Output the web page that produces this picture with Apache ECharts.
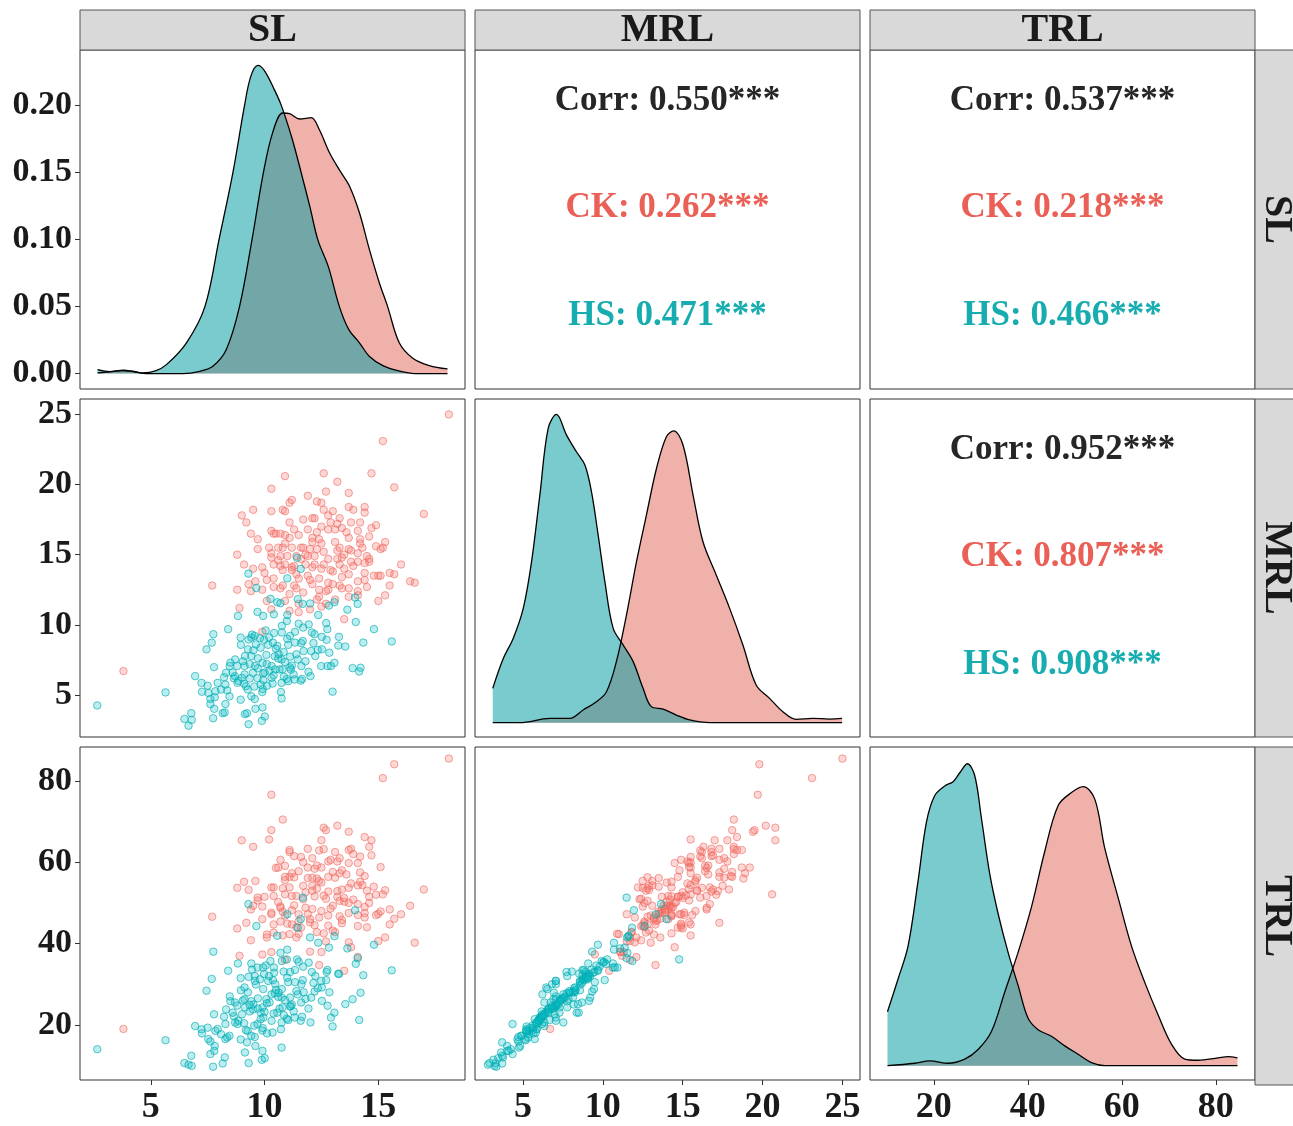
<!DOCTYPE html>
<html>
<head>
<meta charset="utf-8">
<title>ggpairs SL MRL TRL</title>
<script src="https://cdn.jsdelivr.net/npm/echarts@6/dist/echarts.min.js"></script>
<style>
  html, body { margin: 0; padding: 0; background: #fff; }
  #main { width: 1293px; height: 1126px; }
</style>
</head>
<body>
<div id="main"></div>
<script>
// variables and groups
var varNames = ['SL', 'MRL', 'TRL'];
var groupNames = ['CK', 'HS'];

// correlations shown in the upper panels: [SL-MRL, SL-TRL, MRL-TRL]
var corrAll = ['0.550', '0.537', '0.952'];
var corrCK = ['0.262', '0.218', '0.807'];
var corrHS = ['0.471', '0.466', '0.908'];
var corrStars = '***';

// axis ranges and tick labels
var slRange = [1.89, 18.81];
var mrlRange = [2.0, 26.1];
var trlRange = [6.43, 88.35];
var slTicks = [5, 10, 15];
var mrlTicks = [5, 10, 15, 20, 25];
var trlTicks = [20, 40, 60, 80];
var densTicks = [0, 0.05, 0.10, 0.15, 0.20];
var densSLRange = [-0.0115, 0.2415];
var densMRLRange = [-0.009, 0.2036];
var densTRLRange = [-0.0024, 0.0532];

// observations [SL, MRL, TRL]
var ckObs = [
  [3.8,6.7,19.0],[7.7,12.8,46.6],[8.8,15.0,43.7],[8.8,12.5,53.7],[8.9,11.2,37.0],[9.0,17.8,65.4],[9.1,14.3,55.2],[9.2,17.3,45.1],[9.3,12.9,53.2],[9.4,12.4,40.8],
  [9.4,16.5,48.4],[9.5,18.2,63.8],[9.5,14.0,49.3],[9.6,13.1,55.4],[9.7,16.1,51.3],[9.7,15.4,50.6],[9.9,12.5,49.1],[9.9,9.5,37.3],[9.9,14.1,46.0],[10.0,13.7,51.5],
  [10.1,13.2,42.2],[10.1,11.7,41.5],[10.2,15.5,65.6],[10.3,19.7,76.6],[10.3,18.1,67.9],[10.3,15.1,47.6],[10.3,14.8,47.2],[10.3,16.7,53.8],[10.3,11.1,37.9],[10.4,16.5,51.7],
  [10.4,13.3,44.7],[10.4,14.3,53.8],[10.4,12.7,42.7],[10.5,16.5,58.6],[10.6,15.5,58.7],[10.7,12.6,45.4],[10.7,16.5,48.8],[10.7,14.9,60.6],[10.7,14.2,49.1],[10.8,18.2,70.5],
  [10.8,15.5,42.0],[10.8,12.8,53.6],[10.9,18.1,56.4],[10.9,20.6,52.1],[10.9,16.4,59.1],[10.9,11.7,36.0],[10.9,14.3,46.9],[11.0,14.9,44.9],[11.1,17.3,56.4],[11.1,16.2,62.5],
  [11.1,11.0,42.3],[11.1,18.7,63.0],[11.1,12.2,53.8],[11.2,14.1,51.7],[11.2,18.9,57.3],[11.2,15.5,44.7],[11.3,12.8,56.3],[11.3,16.8,61.5],[11.3,14.2,49.4],[11.4,13.6,41.5],
  [11.4,14.9,51.7],[11.5,10.9,42.4],[11.5,13.3,45.5],[11.5,11.5,47.2],[11.6,15.5,61.3],[11.6,14.7,43.9],[11.7,12.3,50.9],[11.7,15.5,60.0],[11.7,17.5,54.2],[11.8,14.3,48.8],
  [11.9,19.2,58.7],[11.9,13.5,56.1],[11.9,14.9,47.2],[11.9,16.8,63.3],[12.0,15.4,45.2],[12.0,11.1,38.0],[12.1,17.6,56.2],[12.1,14.1,48.5],[12.1,16.2,61.0],[12.1,12.9,54.2],
  [12.2,14.3,51.6],[12.2,17.6,58.4],[12.2,14.9,44.5],[12.3,18.8,56.0],[12.3,15.4,53.5],[12.3,11.8,42.8],[12.4,13.3,34.7],[12.4,12.5,55.4],[12.4,16.1,62.9],[12.4,12.0,46.4],
  [12.5,18.7,58.7],[12.5,11.3,37.9],[12.5,15.8,48.0],[12.5,14.0,55.0],[12.5,17.0,65.4],[12.6,18.2,63.2],[12.6,14.3,42.5],[12.6,20.8,68.5],[12.7,12.4,51.0],[12.7,11.5,40.5],
  [12.7,19.5,67.9],[12.8,12.5,44.4],[12.8,16.8,52.8],[12.8,13.0,46.9],[12.8,14.7,56.4],[12.8,17.8,60.2],[13.0,18.1,57.6],[13.0,13.8,49.3],[13.0,12.9,43.2],[13.1,16.8,62.5],
  [13.1,11.8,42.8],[13.2,17.2,52.9],[13.2,15.3,60.2],[13.2,14.7,51.5],[13.2,20.2,69.0],[13.3,17.6,61.0],[13.3,15.5,57.3],[13.3,12.8,50.5],[13.3,14.3,46.7],[13.4,12.6,45.0],
  [13.4,16.9,53.3],[13.4,14.8,58.0],[13.5,14.0,50.3],[13.5,10.4,33.3],[13.7,18.4,63.0],[13.7,16.2,53.7],[13.7,15.4,59.8],[13.7,12.6,50.0],[13.7,13.6,47.5],[13.7,12.0,40.3],
  [13.7,19.4,67.5],[13.8,17.3,63.3],[13.8,14.5,39.1],[13.8,15.3,54.8],[13.9,18.2,62.0],[14.1,13.1,54.3],[14.1,15.1,47.0],[14.1,16.7,49.7],[14.1,12.1,36.7],[14.1,14.5,59.8],
  [14.1,12.4,44.3],[14.2,17.3,57.5],[14.2,16.1,61.4],[14.3,15.5,54.4],[14.4,14.4,49.0],[14.4,18.4,66.2],[14.4,18.0,56.6],[14.4,13.7,47.5],[14.5,14.9,44.0],[14.5,12.7,53.0],
  [14.6,14.5,50.0],[14.6,14.7,51.5],[14.6,16.3,63.8],[14.7,20.8,65.4],[14.7,16.9,61.7],[14.8,13.5,54.0],[14.9,15.6,47.0],[14.9,17.1,52.0],[15.0,13.5,47.3],[15.0,11.7,40.6],
  [15.1,13.5,47.9],[15.1,15.4,58.8],[15.2,23.1,80.7],[15.2,15.5,52.1],[15.3,12.1,41.5],[15.3,15.9,53.1],[15.5,13.7,48.4],[15.5,12.8,44.7],[15.7,13.6,46.1],[15.7,19.8,84.1],
  [16.0,14.3,47.2],[16.4,13.1,49.3],[16.6,13.0,40.2],[17.0,17.9,53.3],[18.1,25.0,85.5],
  [10.6,14.6,50.2],[10.9,15.8,55.6],[11.2,13.9,48.2],[11.5,16.4,57.8],[11.8,15.0,52.6],[12.0,13.2,46.0],[12.3,16.6,59.2],[12.6,15.2,51.8],[12.9,13.9,48.6],[13.1,15.9,56.2],
  [13.4,13.4,45.8],[13.6,16.6,57.0],[13.9,14.2,50.8],[14.2,15.8,55.2],[14.4,13.2,46.4],[10.8,13.9,47.8],[11.4,12.6,44.0],[12.1,15.9,53.0],[12.9,17.3,60.6],[13.5,15.0,51.2]
];
var hsObs = [
  [2.65,4.25,14.0],[5.65,5.18,16.2],[6.48,3.29,10.6],[6.66,2.81,10.2],[6.78,3.70,12.4],[6.80,3.22,9.9],[6.95,6.34,19.7],[7.23,5.86,18.9],[7.25,5.23,17.9],[7.45,8.25,28.4],
  [7.50,5.66,19.3],[7.53,5.14,16.5],[7.62,4.71,15.9],[7.62,4.35,12.8],[7.68,8.73,31.3],[7.74,3.34,9.7],[7.75,9.33,38.0],[7.78,6.98,22.6],[7.79,4.01,13.6],[7.81,4.83,14.8],
  [7.84,5.26,18.5],[7.94,5.86,19.0],[8.09,5.38,17.7],[8.16,3.70,10.5],[8.22,6.26,22.0],[8.25,3.75,12.0],[8.28,4.35,20.2],[8.28,5.74,16.5],[8.31,6.58,23.8],[8.36,5.33,16.9],
  [8.40,9.69,33.3],[8.46,4.90,17.3],[8.47,7.06,27.0],[8.65,6.19,22.1],[8.70,6.34,25.5],[8.71,7.53,20.6],[8.80,7.06,24.7],[8.81,5.86,20.2],[8.83,10.63,35.1],[8.95,9.09,31.5],
  [8.95,4.66,16.4],[8.96,8.57,28.5],[9.01,6.22,22.6],[9.12,6.46,29.2],[9.12,7.06,26.3],[9.14,7.77,24.3],[9.14,3.63,13.2],[9.18,5.62,18.7],[9.23,3.70,15.7],[9.26,5.38,18.5],
  [9.27,8.25,28.0],[9.29,13.65,49.7],[9.30,2.91,10.6],[9.35,6.17,23.3],[9.42,9.09,35.1],[9.42,7.77,25.8],[9.42,4.90,17.3],[9.49,6.58,23.8],[9.51,8.18,25.0],[9.57,9.21,32.0],
  [9.57,4.71,17.0],[9.58,7.06,30.8],[9.60,4.01,14.8],[9.64,12.62,44.3],[9.69,10.92,34.1],[9.69,6.19,20.2],[9.71,7.61,26.5],[9.83,8.37,23.0],[9.83,5.74,21.4],[9.88,3.15,11.4],
  [9.91,7.29,24.3],[9.91,4.11,13.6],[9.92,5.42,19.2],[9.94,10.63,34.1],[9.94,6.53,28.8],[9.95,6.05,21.8],[9.98,8.93,32.5],[10.01,3.46,11.8],[10.08,7.85,26.3],[10.11,5.66,17.9],
  [10.16,8.57,30.8],[10.22,6.74,25.5],[10.26,11.85,35.7],[10.31,7.06,21.0],[10.31,6.22,27.5],[10.35,5.81,18.1],[10.37,8.73,31.0],[10.41,10.75,34.1],[10.42,9.41,32.8],[10.45,7.75,27.8],
  [10.47,6.82,30.0],[10.56,11.61,41.9],[10.56,8.49,23.0],[10.66,6.82,24.0],[10.70,11.54,37.7],[10.72,5.21,18.9],[10.75,7.53,26.7],[10.75,5.86,20.6],[10.75,4.75,14.4],[10.76,9.93,35.7],
  [10.76,9.45,28.8],[10.79,6.82,24.3],[10.84,8.06,33.1],[10.98,10.27,36.1],[10.98,6.14,21.5],[11.00,13.31,47.2],[11.00,10.70,38.5],[11.04,8.57,30.5],[11.04,5.98,21.2],[11.12,9.21,26.7],
  [11.12,7.73,33.0],[11.12,6.96,24.5],[11.28,6.46,23.3],[11.32,6.10,21.8],[11.34,9.50,30.5],[11.34,8.73,33.5],[11.43,14.78,36.1],[11.46,11.83,43.9],[11.46,7.53,27.5],[11.50,10.08,35.5],
  [11.59,13.99,46.0],[11.59,6.02,21.0],[11.61,8.69,25.5],[11.62,7.06,30.0],[11.65,6.14,22.0],[11.68,11.49,51.3],[11.68,8.85,31.0],[11.72,8.13,28.0],[11.93,6.65,24.0],[11.94,10.03,35.3],
  [12.00,11.52,41.5],[12.02,6.34,20.6],[12.05,8.13,26.7],[12.08,9.45,33.0],[12.20,9.33,28.2],[12.23,7.77,32.0],[12.34,8.21,29.0],[12.36,10.70,40.2],[12.49,7.06,30.8],[12.52,9.14,25.9],
  [12.52,8.25,29.2],[12.71,10.12,31.0],[12.73,8.93,33.0],[12.76,9.69,33.5],[12.77,7.06,24.7],[12.83,11.37,39.0],[12.85,8.01,28.0],[12.92,7.06,21.8],[12.99,5.23,19.6],[13.07,11.61,41.8],
  [13.07,7.29,23.0],[13.24,8.52,32.6],[13.27,9.14,32.5],[13.55,8.45,25.1],[13.64,11.08,38.8],[13.87,6.91,26.3],[13.98,11.95,48.2],[14.01,10.20,35.0],[14.09,11.49,36.4],[14.16,6.67,21.2],
  [14.22,6.94,27.9],[14.34,8.73,32.2],[14.81,9.69,39.7],[15.59,8.81,33.4],
  [9.30,8.95,31.8],[9.45,9.30,33.6],[9.62,8.60,29.9],[9.80,9.05,31.2],[10.05,9.60,34.6],[10.20,9.10,32.0],[10.50,8.30,28.6],[10.62,7.90,27.9],[10.90,7.35,26.1],[11.20,7.10,25.0],
  [9.05,7.40,26.0],[9.35,7.20,24.9],[9.70,6.90,24.0],[10.00,6.60,23.2],[10.40,6.40,22.8],[10.85,6.30,22.4],[11.15,6.80,24.6],[11.40,7.90,28.3],[11.80,7.40,26.4],[12.15,8.70,30.3],
  [8.60,6.60,23.0],[8.85,6.00,21.0],[9.10,5.80,20.4],[9.55,5.60,19.8],[9.90,5.20,18.6],[8.50,7.30,25.8],[10.10,7.20,25.3],[10.60,7.60,26.9],[11.00,9.00,31.6],[11.70,9.80,34.3]
];

// density curves [x, density]
var densSL_CK = [
  [2.66,0.0005],[3.3,0.0015],[3.79,0.0025],[4.3,0.0012],[4.81,0.0],[6.42,0.0],[7.15,0.0017],[7.73,0.0055],[8.32,0.018],[8.9,0.050],
  [9.45,0.100],[9.95,0.150],[10.36,0.180],[10.80,0.1945],[11.10,0.194],[11.54,0.190],[12.05,0.191],[12.41,0.182],[12.85,0.165],[13.29,0.152],
  [13.73,0.140],[14.17,0.120],[14.61,0.0925],[15.04,0.068],[15.41,0.050],[15.92,0.023],[16.50,0.0117],[17.24,0.006],[18.04,0.0035]
];
var densSL_HS = [
  [2.66,0.003],[3.2,0.0015],[3.7,0.0022],[4.2,0.0018],[4.66,0.0005],[5.2,0.002],[5.69,0.0067],[6.57,0.023],[7.38,0.050],[8.0,0.100],
  [8.61,0.150],[9.12,0.200],[9.40,0.222],[9.71,0.230],[10.0,0.226],[10.4,0.213],[10.74,0.200],[11.2,0.176],[11.61,0.150],[12.0,0.124],
  [12.34,0.100],[12.8,0.080],[13.29,0.050],[13.7,0.033],[14.17,0.023],[14.6,0.013],[15.2,0.006],[15.9,0.002],[16.6,0.0],[18.04,0.0]
];
var densMRL_CK = [
  [3.11,0.0],[4.81,0.0],[6.69,0.0027],[7.94,0.0027],[8.77,0.0080],[9.60,0.0132],[10.23,0.0195],[10.85,0.0384],[11.48,0.0677],[12.11,0.1013],
  [12.73,0.1306],[13.36,0.1599],[13.98,0.1799],[14.44,0.1836],[15.02,0.1747],[15.65,0.1432],[16.27,0.1138],[17.10,0.0929],[17.94,0.0719],[18.77,0.0489],
  [19.60,0.0237],[20.44,0.0153],[21.27,0.0069],[22.10,0.0021],[23.14,0.0027],[24.19,0.0023],[24.98,0.0027]
];
var densMRL_HS = [
  [3.11,0.0216],[3.77,0.0404],[4.39,0.0530],[5.02,0.0719],[5.54,0.1013],[6.06,0.1432],[6.58,0.1851],[7.10,0.1939],[7.73,0.1809],[8.35,0.1704],
  [8.88,0.1621],[9.29,0.1453],[9.71,0.1180],[10.13,0.0887],[10.65,0.0593],[11.27,0.0489],[11.90,0.0384],[12.52,0.0216],[13.04,0.0101],[13.77,0.0086],
  [14.60,0.0048],[15.44,0.0017],[16.69,0.0],[24.98,0.0]
];
var densTRL_CK = [
  [10.15,0],[15.96,0.0004],[19.15,0.0008],[23.05,0.0004],[26.60,0.0011],[29.43,0.0027],[32.27,0.0057],[35.11,0.0123],[37.94,0.0189],[40.79,0.0265],
  [43.62,0.0358],[46.45,0.0434],[49.30,0.0456],[51.77,0.0466],[54.26,0.0445],[56.38,0.0363],[59.21,0.0281],[62.06,0.0200],[64.89,0.0139],[67.72,0.0085],
  [70.57,0.0036],[73.40,0.0011],[76.23,0.0009],[80.49,0.0013],[82.62,0.0015],[84.62,0.0013]
];
var densTRL_HS = [
  [10.15,0.0090],[12.41,0.0145],[14.54,0.0200],[16.67,0.0309],[18.45,0.0407],[20.21,0.0451],[22.34,0.0467],[24.11,0.0474],[25.53,0.0489],[27.16,0.0504],
  [28.72,0.0484],[30.14,0.0413],[31.91,0.0320],[33.68,0.0254],[35.81,0.0189],[37.94,0.0134],[40.07,0.0079],[42.19,0.0060],[45.04,0.0049],[47.87,0.0033],
  [50.70,0.0019],[53.55,0.0005],[56.38,0],[84.62,0]
];

// layout (pixels)
var colLeft = [80, 475, 870];
var panelW = 385;
var rowTop = [50, 399, 747];
var panelH = [339, 338, 338];
var font = '"Liberation Serif", "Times New Roman", serif';

var ranges = [slRange, mrlRange, trlRange];
var ticks = [slTicks, mrlTicks, trlTicks];
var densRanges = [densSLRange, densMRLRange, densTRLRange];
var densData = [[densSL_CK, densSL_HS], [densMRL_CK, densMRL_HS], [densTRL_CK, densTRL_HS]];

var grids = [], xAxes = [], yAxes = [], series = [], graphics = [];

for (var r = 0; r < 3; r++) {
  for (var c = 0; c < 3; c++) {
    var g = r * 3 + c;
    grids.push({
      left: colLeft[c], top: rowTop[r], width: panelW, height: panelH[r],
      show: true, borderColor: '#333', borderWidth: 1, backgroundColor: '#fff'
    });
    var showX = (r === 2), showY = (c === 0);
    xAxes.push({
      type: 'value', gridIndex: g, min: ranges[c][0], max: ranges[c][1],
      axisLine: { show: false, onZero: false },
      splitLine: { show: false },
      axisTick: { show: showX, length: 5, lineStyle: { color: '#333', width: 1 }, customValues: ticks[c] },
      axisLabel: {
        show: showX, customValues: ticks[c], margin: 10,
        fontFamily: font, fontWeight: 'bold', fontSize: 36, color: '#1a1a1a'
      }
    });
    var isDiag = (r === c);
    var yTicks = (r === 0 && c === 0) ? densTicks : ticks[r];
    yAxes.push({
      type: 'value', gridIndex: g,
      min: isDiag ? densRanges[r][0] : ranges[r][0],
      max: isDiag ? densRanges[r][1] : ranges[r][1],
      axisLine: { show: false, onZero: false },
      splitLine: { show: false },
      axisTick: { show: showY, length: 5, lineStyle: { color: '#333', width: 1 }, customValues: yTicks },
      axisLabel: {
        show: showY, customValues: yTicks, margin: 8,
        fontFamily: font, fontWeight: 'bold', fontSize: 34, color: '#1a1a1a',
        formatter: (r === 0 && c === 0) ? function (v) { return v.toFixed(2); } : null
      }
    });
  }
}

// diagonal densities: CK first, HS drawn on top
var areaFill = ['rgba(227,99,87,0.5)', 'rgba(0,155,161,0.52)'];
for (var d = 0; d < 3; d++) {
  var gi = d * 3 + d;
  for (var k = 0; k < 2; k++) {
    series.push({
      name: groupNames[k], type: 'line', xAxisIndex: gi, yAxisIndex: gi,
      data: densData[d][k], smooth: 0.35, symbol: 'none', silent: true,
      lineStyle: { color: '#000', width: 1.3 },
      areaStyle: { color: areaFill[k], opacity: 1 }
    });
  }
}

// lower scatter panels
var ptFill = ['rgba(248,118,109,0.36)', 'rgba(0,191,196,0.34)'];
var ptStroke = ['rgba(236,98,88,0.7)', 'rgba(0,168,173,0.78)'];
var obsByGroup = [ckObs, hsObs];
for (var rr = 1; rr < 3; rr++) {
  for (var cc = 0; cc < rr; cc++) {
    var gs = rr * 3 + cc;
    for (var q = 0; q < 2; q++) {
      series.push({
        name: groupNames[q], type: 'scatter', xAxisIndex: gs, yAxisIndex: gs,
        data: obsByGroup[q].map(function (o) { return [o[cc], o[rr]]; }),
        symbol: 'circle', symbolSize: 7.5,
        itemStyle: { color: ptFill[q], borderColor: ptStroke[q], borderWidth: 1 }
      });
    }
  }
}

// facet strips
for (var s = 0; s < 3; s++) {
  graphics.push({
    type: 'rect', shape: { x: colLeft[s], y: 10, width: panelW, height: 40 },
    style: { fill: '#d9d9d9', stroke: '#555', lineWidth: 1 }
  });
  graphics.push({
    type: 'text', x: colLeft[s] + panelW / 2, y: 31,
    style: { text: varNames[s], font: 'bold 40px ' + font, fill: '#1a1a1a', align: 'center', verticalAlign: 'middle' }
  });
  graphics.push({
    type: 'rect', shape: { x: 1255, y: rowTop[s], width: 50, height: panelH[s] },
    style: { fill: '#d9d9d9', stroke: '#555', lineWidth: 1 }
  });
  graphics.push({
    type: 'text', x: 1276, y: rowTop[s] + panelH[s] / 2, rotation: -Math.PI / 2,
    style: { text: varNames[s], font: 'bold 40px ' + font, fill: '#1a1a1a', align: 'center', verticalAlign: 'middle' }
  });
}

// upper correlation panels
var corrCells = [[0, 1], [0, 2], [1, 2]];
corrCells.forEach(function (cell, i) {
  var cx = colLeft[cell[1]] + panelW / 2;
  var top = rowTop[cell[0]];
  var lines = [
    ['Corr: ' + corrAll[i] + corrStars, '#262626', 51],
    [groupNames[0] + ': ' + corrCK[i] + corrStars, '#EA6056', 158],
    [groupNames[1] + ': ' + corrHS[i] + corrStars, '#17ADB0', 266]
  ];
  lines.forEach(function (ln) {
    graphics.push({
      type: 'text', x: cx, y: top + ln[2],
      style: { text: ln[0], font: 'bold 35px ' + font, fill: ln[1], align: 'center', verticalAlign: 'middle' }
    });
  });
});

var myChart = echarts.init(document.getElementById('main'), null, { renderer: 'canvas' });
myChart.setOption({
  animation: false,
  backgroundColor: '#fff',
  grid: grids,
  xAxis: xAxes,
  yAxis: yAxes,
  series: series,
  graphic: { elements: graphics }
});
</script>
</body>
</html>
